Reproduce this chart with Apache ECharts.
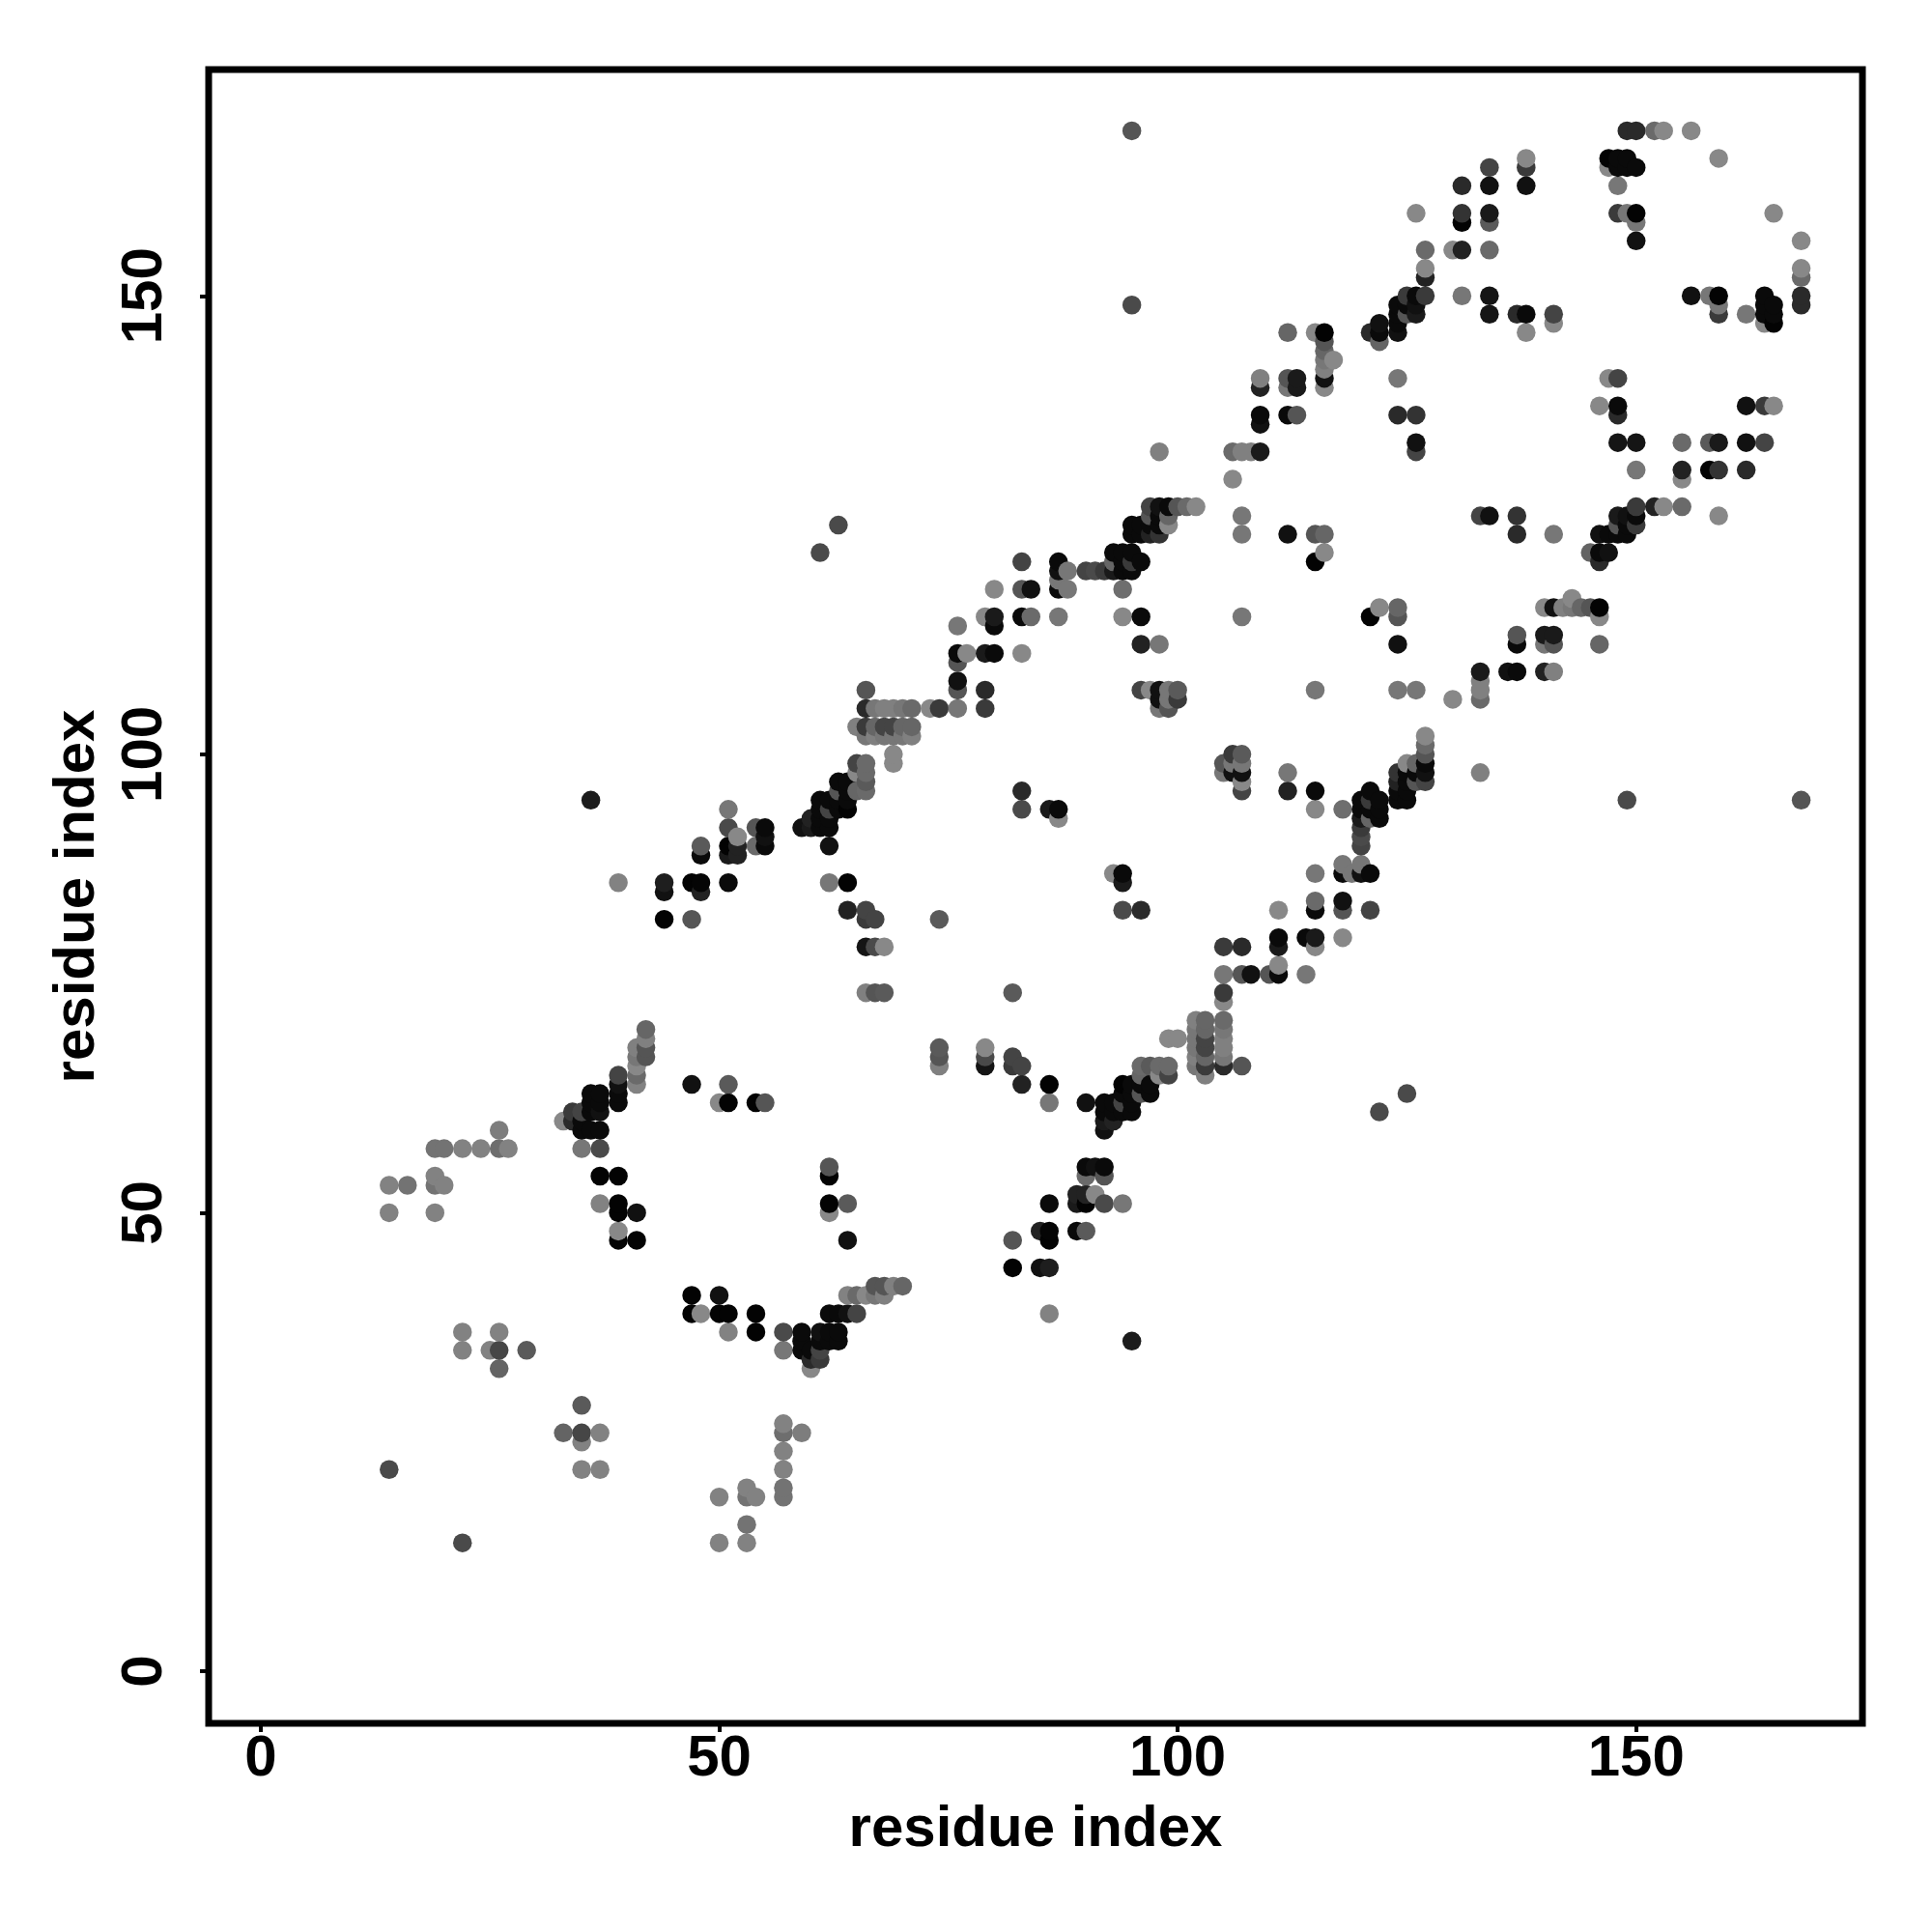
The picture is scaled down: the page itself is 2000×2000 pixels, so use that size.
<!DOCTYPE html>
<html><head><meta charset="utf-8"><style>html,body{margin:0;padding:0;background:#fff}#c{width:2000px;height:2000px}</style>
<script src="https://cdn.jsdelivr.net/npm/echarts@6/dist/echarts.min.js"></script></head><body><div id="c"></div><script>
// contact pairs [i, j, grey level]; the map is symmetric, each pair is plotted both ways
const contacts=[
[14,22,74],[14,50,130],[14,53,130],[16,53,115],[19,50,130],[19,53,115],[19,54,130],[19,57,115],[20,53,130],[20,57,115],
[22,35,130],[22,37,130],[22,57,130],[24,57,130],[25,35,130],[26,33,100],[26,35,70],[26,37,130],[26,57,110],[26,59,125],[27,57,130],[29,35,90],
[33,60,136],[34,60,42],[34,61,58],[35,57,119],[35,59,10],[35,60,10],[35,61,68],
[36,59,10],[36,61,10],[36,62,10],[36,63,10],[36,95,28],
[37,51,130],[37,54,3],[37,57,74],[37,59,10],[37,61,17],[37,62,10],[37,63,10],
[39,47,3],[39,48,136],[39,50,3],[39,51,3],[39,54,3],[39,62,10],[39,63,10],[39,64,17],[39,65,68],[39,86,130],
[41,47,3],[41,50,17],[41,64,130],[41,65,106],[41,66,136],[41,67,119],[41,68,128],
[42,67,85],[42,68,85],[42,69,128],[42,70,102],
[44,82,3],[44,85,17],[44,86,30],[47,64,17],[47,82,85],[47,86,3],[48,85,34],[48,86,5],[48,89,10],[48,90,90],
[50,62,136],[51,62,3],[51,64,90],[51,86,10],[51,89,26],[51,90,3],[51,92,74],[51,94,119],[52,89,34],[52,90,34],[52,91,136],
[54,62,3],[54,90,106],[54,92,85],[55,62,85],[55,90,10],[55,91,17],[55,92,10],
[59,92,17],[60,92,26],[60,93,34],[61,92,10],[61,93,10],[61,94,10],[61,95,10],[61,122,74],
[62,86,119],[62,90,17],[62,92,10],[62,93,10],[62,94,68],[62,95,10],
[63,94,10],[63,95,10],[63,96,85],[63,97,10],[63,125,74],
[64,83,34],[64,86,3],[64,94,3],[64,95,10],[64,96,10],[64,97,10],
[65,96,102],[65,98,136],[65,99,68],[65,103,128],
[66,74,128],[66,79,21],[66,82,58],[66,83,68],[66,96,106],[66,97,90],[66,98,106],[66,99,106],[66,102,119],[66,103,58],[66,105,42],[66,107,85],
[67,74,85],[67,79,74],[67,82,68],[67,102,128],[67,103,102],[67,105,119],
[68,74,90],[68,79,136],[68,102,119],[68,103,68],[68,105,128],
[69,99,136],[69,100,136],[69,102,119],[69,103,68],[69,105,128],
[70,102,119],[70,103,102],[70,105,119],[71,102,128],[71,103,102],[71,105,106],[73,105,136],[74,82,90],[74,105,58],
[76,105,119],[76,107,85],[76,108,17],[76,110,85],[76,111,10],[76,114,119],[77,111,136],
[79,105,58],[79,107,42],[79,111,26],[79,115,136],[80,111,10],[80,114,10],[80,115,26],[80,118,136],
[83,94,74],[83,96,42],[83,111,136],[83,115,10],[83,118,85],[83,121,68],[84,115,106],[84,118,17],[86,94,26],
[87,93,136],[87,94,10],[87,115,119],[87,118,10],[87,119,119],[87,120,17],[87,121,10],[88,118,119],[88,120,119],
[90,120,68],[91,120,74],[92,120,58],[93,120,26],[93,121,102],[93,122,10],
[94,115,136],[94,118,110],[94,120,10],[94,121,10],[94,122,10],
[95,120,10],[95,121,58],[95,122,10],[95,124,10],[95,125,10],[95,149,74],[95,168,85],
[96,107,68],[96,112,34],[96,115,10],[96,121,10],[96,124,10],[96,125,10],
[97,107,136],[97,124,34],[97,125,10],[97,126,85],[97,127,68],
[98,105,119],[98,106,17],[98,107,17],[98,112,119],[98,124,51],[98,125,10],[98,126,10],[98,127,17],[98,133,128],
[99,105,85],[99,106,119],[99,107,119],[99,125,136],[99,126,102],[99,127,10],
[100,106,58],[100,107,90],[100,127,85],[101,127,106],[102,127,136],
[106,130,136],[106,133,106],[107,115,119],[107,124,119],[107,126,119],[107,133,128],[108,133,128],
[109,133,26],[109,136,17],[109,137,10],[109,140,34],[109,141,128],
[112,124,17],[112,137,10],[112,140,119],[112,141,85],[112,146,102],[113,137,85],[113,140,26],[113,141,26],
[115,121,3],[115,124,85],[115,146,136],
[116,122,136],[116,124,102],[116,140,136],[116,141,17],[116,142,128],[116,143,119],[116,144,102],[116,145,85],[116,146,3],[117,143,136],
[121,146,42],[122,145,100],[122,146,10],[122,147,17],
[124,137,42],[124,141,119],[124,146,17],[124,147,10],[124,148,10],[124,149,10],
[125,148,85],[125,149,10],[125,150,58],
[126,133,68],[126,134,17],[126,137,51],[126,148,26],[126,149,17],[126,150,10],[126,159,136],
[127,150,58],[127,152,34],[127,153,136],[127,155,106],
[130,155,136],[131,150,119],[131,155,34],[131,158,3],[131,159,51],[131,162,42],
[134,148,21],[134,150,21],[134,155,106],[134,158,90],[134,159,26],[134,162,17],[134,164,68],
[137,148,42],[138,146,136],[138,148,10],[138,162,17],[138,164,58],[138,165,136],
[141,147,136],[141,148,68],
[147,164,136],[147,165,3],[148,159,58],[148,162,119],[148,164,10],[148,165,10],
[149,159,119],[149,164,10],[149,165,10],[149,168,42],
[150,156,17],[150,158,119],[150,159,3],[150,164,10],[150,168,42],
[152,168,106],[153,168,136],[156,168,136],[159,165,136]
];
const tickValues=[0,50,100,150];
const axisTitle="residue index";

const points=[];
contacts.forEach(c=>{points.push([c[0],c[1],c[2]]);points.push([c[1],c[0],c[2]]);});
points.sort((a,b)=>a[0]-b[0]||a[1]-b[1]);

const font='"Liberation Sans"';
function axis(rot,gap,margin){return{
  type:'value',min:-5.68,max:174.68,splitLine:{show:false},
  axisLine:{show:false,onZero:false},
  axisTick:{show:true,length:9,lineStyle:{color:'#000',width:4},customValues:tickValues},
  axisLabel:{show:true,color:'#000',fontFamily:font,fontWeight:'bold',fontSize:60,margin:margin,rotate:rot,customValues:tickValues,hideOverlap:false,showMinLabel:true,showMaxLabel:true},
  name:axisTitle,nameLocation:'middle',nameGap:gap,nameRotate:rot,
  nameTextStyle:{color:'#000',fontFamily:font,fontWeight:'bold',fontSize:60}
};}
const chart=echarts.init(document.getElementById('c'),null,{renderer:'canvas'});
chart.setOption({
  animation:false,backgroundColor:'#fff',
  grid:{left:216,top:72,width:1712,height:1712,show:true,borderColor:'#000',borderWidth:7,backgroundColor:'transparent',containLabel:false},
  xAxis:axis(0,80,7),
  yAxis:axis(90,106,36),
  series:[{type:'scatter',data:points,symbol:'circle',symbolSize:19.5,clip:true,
    itemStyle:{opacity:1,color:p=>{const g=p.value[2];return 'rgb('+g+','+g+','+g+')';}},
    emphasis:{disabled:true}}]
});
</script></body></html>
